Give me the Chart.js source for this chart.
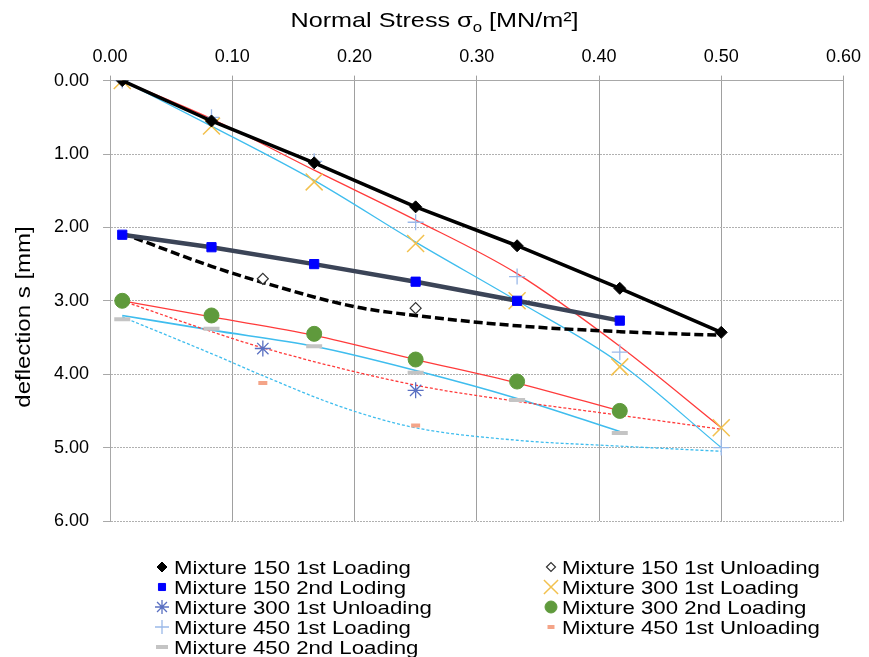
<!DOCTYPE html>
<html lang="en">
<head>
<meta charset="UTF-8">
<title>Normal Stress vs deflection</title>
<style>
  html, body { margin: 0; padding: 0; background: #fff; }
</style>
</head>
<body>
<canvas id="myChart" width="869" height="657"></canvas>

<script src="https://cdn.jsdelivr.net/npm/chart.js@4.4.1/dist/chart.umd.min.js"></script>
<script>
// normal stress steps [MN/m2]
var stress7 = [0.01, 0.083, 0.167, 0.25, 0.333, 0.417, 0.5];
var stress6 = [0.01, 0.083, 0.167, 0.25, 0.333, 0.417];
var stressUnload = [0.125, 0.25];

// measured deflection [mm]
var m150Load1 = [0, 0.55, 1.12, 1.72, 2.25, 2.83, 3.43];
var m150Unload1 = [2.7, 3.1];
var m150Load2 = [2.1, 2.27, 2.5, 2.74, 3.0, 3.27];
var m300Load1 = [0, 0.62, 1.38, 2.22, 3.0, 3.9, 4.73];
var m300Unload1 = [3.65, 4.22];
var m300Load2 = [3.0, 3.2, 3.45, 3.8, 4.1, 4.5];
var m450Load1 = [0, 0.5, 1.1, 1.93, 2.67, 3.7, 5.0];
var m450Unload1 = [4.12, 4.7];
var m450Load2 = [3.25, 3.38, 3.62, 3.98, 4.35, 4.8];

// fitted curves
var fit150UnloadX = [0.01, 0.083, 0.125, 0.2, 0.25, 0.333, 0.417, 0.5];
var fit150UnloadY = [2.08, 2.53, 2.75, 3.08, 3.2, 3.34, 3.42, 3.47];
var fitRedLoadY = [0, 0.52, 1.22, 1.9, 2.63, 3.62, 4.73];
var fitCyanLoadY = [0, 0.62, 1.36, 2.2, 3.0, 3.85, 5.0];
var fitRedUnloadX = [0.01, 0.083, 0.125, 0.25, 0.333, 0.417, 0.5];
var fitRedUnloadY = [3.0, 3.42, 3.64, 4.15, 4.37, 4.56, 4.75];
var fitRedLoad2Y = [3.0, 3.22, 3.47, 3.8, 4.12, 4.5];
var fitCyanLoad2Y = [3.2, 3.4, 3.62, 3.95, 4.33, 4.78];
var fitCyanUnloadX = [0.01, 0.083, 0.125, 0.19, 0.25, 0.333, 0.417, 0.5];
var fitCyanUnloadY = [3.22, 3.72, 4.02, 4.45, 4.73, 4.9, 4.98, 5.05];

var xTicks = [0, 0.1, 0.2, 0.3, 0.4, 0.5, 0.6];
var yTicks = [0, 1, 2, 3, 4, 5, 6];

var FONT = '"Liberation Sans", Arial, sans-serif';

function pts(xs, ys) {
    return xs.map(function (x, i) { return { x: x, y: ys[i] }; });
}

function markers(label, xs, ys, style, radius, fill, stroke, width, legendRadius) {
    return {
        label: label,
        data: pts(xs, ys),
        showLine: false,
        pointStyle: style,
        pointRadius: radius,
        pointBackgroundColor: fill,
        pointBorderColor: stroke,
        pointBorderWidth: width,
        legendRadius: legendRadius
    };
}

function fitLine(xs, ys, color, width, dash) {
    return {
        data: pts(xs, ys),
        borderColor: color,
        borderWidth: width,
        borderDash: dash || [],
        pointRadius: 0,
        cubicInterpolationMode: 'monotone',
        fill: false
    };
}

var s150a = markers('Mixture 150 1st Loading', stress7, m150Load1, 'rectRot', 6, '#000', '#000', 1, 5);
s150a.showLine = true;
s150a.borderColor = '#000';
s150a.borderWidth = 3.5;

var s150b = markers('Mixture 150 2nd Loding', stress6, m150Load2, 'rect', 6.5, '#0000ff', '#0000ff', 1, 5);
s150b.showLine = true;
s150b.borderColor = '#3b4457';
s150b.borderWidth = 4.5;

var datasets = [
    s150a,
    markers('Mixture 150 1st Unloading', stressUnload, m150Unload1, 'rectRot', 5.5, '#fff', '#333', 1.2, 4.5),
    s150b,
    markers('Mixture 300 1st Loading', stress7, m300Load1, 'crossRot', 12, '#f2c14e', '#f2c14e', 1.5, 10),
    markers('Mixture 300 1st Unloading', stressUnload, m300Unload1, 'star', 8, '#5a70c2', '#5a70c2', 1.3, 7),
    markers('Mixture 300 2nd Loading', stress6, m300Load2, 'circle', 7.5, '#5f9a3c', '#5f9a3c', 1, 6),
    markers('Mixture 450 1st Loading', stress7, m450Load1, 'cross', 8, '#9bb9e9', '#9bb9e9', 1.3, 7),
    markers('Mixture 450 1st Unloading', stressUnload, m450Unload1, 'line', 4.5, '#f4a488', '#f4a488', 4, 3.5),
    markers('Mixture 450 2nd Loading', stress6, m450Load2, 'line', 8, '#c4c4c4', '#c4c4c4', 4, 6),
    fitLine(fit150UnloadX, fit150UnloadY, '#000', 3.5, [9, 4]),
    fitLine(stress7, fitRedLoadY, '#ff3b3b', 1.3),
    fitLine(stress7, fitCyanLoadY, '#3fbdee', 1.3),
    fitLine(fitRedUnloadX, fitRedUnloadY, '#ff3b3b', 1.3, [3, 2]),
    fitLine(stress6, fitRedLoad2Y, '#ff3b3b', 1.3),
    fitLine(stress6, fitCyanLoad2Y, '#3fbdee', 1.6),
    fitLine(fitCyanUnloadX, fitCyanUnloadY, '#3fbdee', 1.3, [3, 2])
];

// text in the source picture is drawn a little wide
function wideText(ctx, text, x, y, sx) {
    ctx.save();
    ctx.translate(x, y);
    ctx.scale(sx, 1);
    ctx.fillText(text, 0, 0);
    ctx.restore();
}

var titlesAndLegend = {
    id: 'titlesAndLegend',
    afterDraw: function (chart) {
        var ctx = chart.ctx;
        var sx = 1.2;
        ctx.save();
        ctx.fillStyle = '#000';
        ctx.textAlign = 'left';
        ctx.textBaseline = 'alphabetic';

        // x axis title with subscript
        var big = '21px ' + FONT, small = '14px ' + FONT;
        var p1 = 'Normal Stress \u03c3', p2 = 'o', p3 = ' [MN/m\u00b2]';
        ctx.font = big;
        var w1 = ctx.measureText(p1).width * sx, w3 = ctx.measureText(p3).width * sx;
        ctx.font = small;
        var w2 = ctx.measureText(p2).width * sx;
        var tx = chart.width / 2 - (w1 + w2 + w3) / 2, ty = 27;
        ctx.font = big;
        wideText(ctx, p1, tx, ty, sx);
        ctx.font = small;
        wideText(ctx, p2, tx + w1, ty + 5, sx);
        ctx.font = big;
        wideText(ctx, p3, tx + w1 + w2, ty, sx);

        // y axis title
        ctx.save();
        ctx.translate(30, 317);
        ctx.rotate(-Math.PI / 2);
        ctx.font = '20px ' + FONT;
        ctx.textAlign = 'center';
        wideText(ctx, 'deflection s [mm]', 0, 0, sx);
        ctx.restore();

        // legend in two columns
        var colMark = [162, 551], colText = [174, 562];
        var rowY = [567, 587, 607, 627, 647];
        ctx.font = '18.5px ' + FONT;
        chart.data.datasets.forEach(function (ds, i) {
            if (!ds.label) return;
            var c = i % 2, r = Math.floor(i / 2);
            var y = rowY[r];
            ctx.save();
            ctx.fillStyle = ds.pointBackgroundColor;
            ctx.strokeStyle = ds.pointBorderColor;
            ctx.lineWidth = ds.pointBorderWidth;
            Chart.helpers.drawPoint(ctx, {
                pointStyle: ds.pointStyle,
                radius: ds.legendRadius,
                borderWidth: ds.pointBorderWidth,
                rotation: 0
            }, colMark[c], y);
            ctx.restore();
            wideText(ctx, ds.label, colText[c], y + 6.7, sx);
        });
        ctx.restore();
    }
};

var ctx = document.getElementById('myChart').getContext('2d');
var myChart = new Chart(ctx, {
    type: 'line',
    data: { datasets: datasets },
    options: {
        responsive: false,
        animation: false,
        devicePixelRatio: 1,
        layout: { padding: { left: 40, right: 18, top: 38, bottom: 136 } },
        plugins: {
            legend: { display: false },
            tooltip: { enabled: false }
        },
        scales: {
            x: {
                type: 'linear',
                position: 'top',
                min: 0,
                max: 0.6,
                afterBuildTicks: function (scale) {
                    scale.ticks = xTicks.map(function (v) { return { value: v }; });
                },
                ticks: {
                    color: '#000',
                    padding: 8,
                    font: { family: FONT, size: 18 },
                    callback: function (v) { return Number(v).toFixed(2); }
                },
                grid: { color: '#a0a0a0', tickLength: 5, tickColor: '#a0a0a0' },
                border: { color: '#a8a8a8', width: 1 }
            },
            y: {
                type: 'linear',
                reverse: true,
                min: 0,
                max: 6,
                afterBuildTicks: function (scale) {
                    scale.ticks = yTicks.map(function (v) { return { value: v }; });
                },
                ticks: {
                    color: '#000',
                    padding: 14,
                    font: { family: FONT, size: 18 },
                    callback: function (v) { return Number(v).toFixed(2); }
                },
                grid: { color: '#b0b0b0', tickLength: 7, tickColor: '#a8a8a8' },
                border: { color: '#a8a8a8', width: 1, dash: [2, 1] }
            }
        }
    },
    plugins: [titlesAndLegend]
});
</script>
</body>
</html>
